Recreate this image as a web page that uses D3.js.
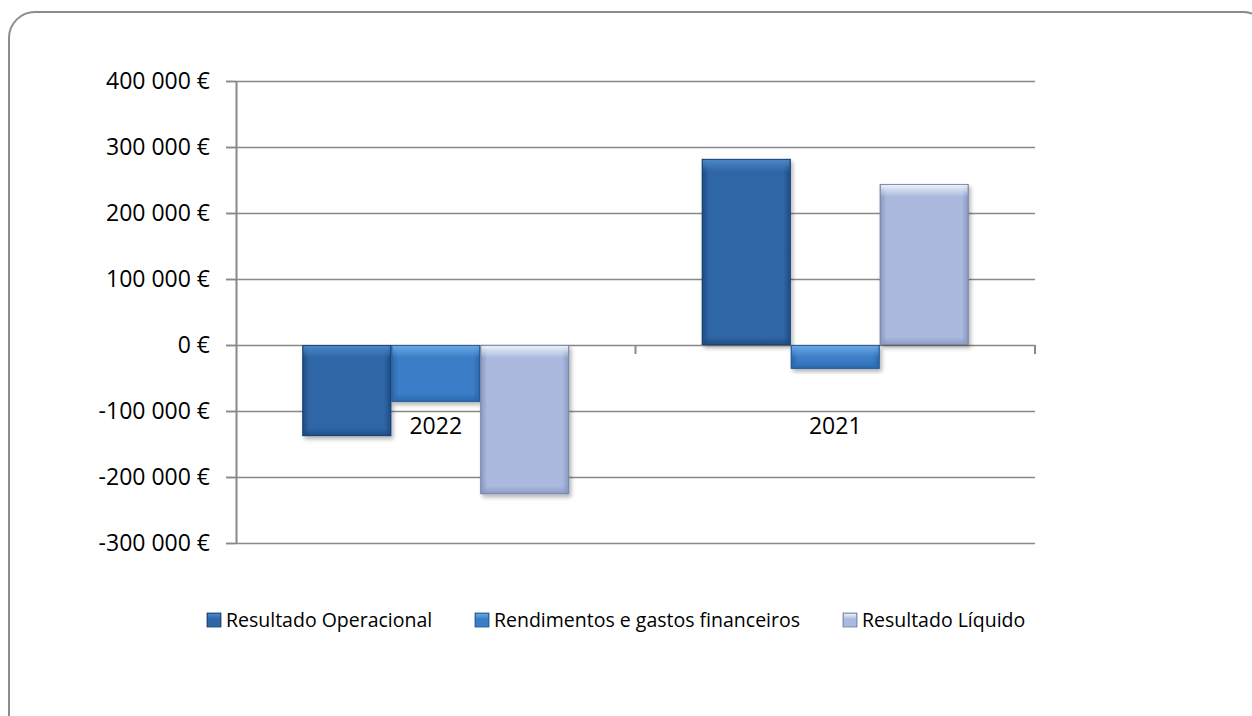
<!DOCTYPE html>
<html>
<head>
<meta charset="utf-8">
<script src="https://cdn.jsdelivr.net/npm/d3@7"></script>
<style>
  html, body { margin: 0; padding: 0; background: #fff; }
  svg { display: block; }
  text { font-family: "Open Sans", "Noto Sans", sans-serif; fill: #000; }
</style>
</head>
<body>
<svg id="chart" width="1252" height="716"></svg>
<script>
// Categories, series and values
const categories = ["2022", "2021"];
const seriesNames = ["Resultado Operacional", "Rendimentos e gastos financeiros", "Resultado Líquido"];
const resultadoOperacional = [-138000, 282000];
const rendimentosGastos = [-86000, -36000];
const resultadoLiquido = [-226000, 244000];
const yTicks = [-300000, -200000, -100000, 0, 100000, 200000, 300000, 400000];

const seriesValues = [resultadoOperacional, rendimentosGastos, resultadoLiquido];

// Bar palette: edge, body, highlight and outline per series
const palette = [
  { edge: "#1d4a80", body: "#2f66a6", light: "#4d88c8", line: "#1a3f6e" },
  { edge: "#2a66aa", body: "#3b7dc6", light: "#6aa8e6", line: "#23578f" },
  { edge: "#8797bf", body: "#aab9dd", light: "#eef2fa", line: "#6f7f9f" }
];

const svg = d3.select("#chart");
const defs = svg.append("defs");

// Soft drop shadow under bars
const shadow = defs.append("filter").attr("id", "shadow")
  .attr("x", "-10%").attr("y", "-10%").attr("width", "130%").attr("height", "130%");
shadow.append("feDropShadow").attr("dx", 2).attr("dy", 3).attr("stdDeviation", 2)
  .attr("flood-color", "#000").attr("flood-opacity", 0.3);

palette.forEach((p, i) => {
  const g = defs.append("linearGradient").attr("id", "body" + i)
    .attr("x1", "0").attr("x2", "1").attr("y1", "0").attr("y2", "0");
  g.append("stop").attr("offset", "0").attr("stop-color", p.edge);
  g.append("stop").attr("offset", "0.08").attr("stop-color", p.body);
  g.append("stop").attr("offset", "0.92").attr("stop-color", p.body);
  g.append("stop").attr("offset", "1").attr("stop-color", p.edge);

  const h = defs.append("linearGradient").attr("id", "top" + i)
    .attr("x1", "0").attr("x2", "0").attr("y1", "0").attr("y2", "1");
  h.append("stop").attr("offset", "0").attr("stop-color", p.light).attr("stop-opacity", 0.95);
  h.append("stop").attr("offset", "1").attr("stop-color", p.light).attr("stop-opacity", 0);

  const b = defs.append("linearGradient").attr("id", "bot" + i)
    .attr("x1", "0").attr("x2", "0").attr("y1", "0").attr("y2", "1");
  b.append("stop").attr("offset", "0").attr("stop-color", p.edge).attr("stop-opacity", 0);
  b.append("stop").attr("offset", "1").attr("stop-color", p.edge).attr("stop-opacity", 0.9);
});

// Rounded frame
svg.append("rect")
  .attr("x", 9).attr("y", 12).attr("width", 1260).attr("height", 730)
  .attr("rx", 26).attr("ry", 26)
  .attr("fill", "#fff").attr("stroke", "#8c8c8c").attr("stroke-width", 2);

// Scales
const plotLeft = 236, plotRight = 1035;
const y = d3.scaleLinear().domain([-300000, 400000]).range([543, 81]);
const x = d3.scaleBand().domain(categories).range([plotLeft, plotRight]).padding(0);
const xSub = d3.scaleBand().domain(seriesNames).range([0, x.bandwidth()])
  .paddingInner(0).paddingOuter(0.745);

const fmt = v => d3.format(",")(v).replace(/,/g, " ").replace("−", "-") + " €";

// Gridlines
svg.append("g").selectAll("line").data(yTicks).join("line")
  .attr("x1", plotLeft - 10).attr("x2", plotRight)
  .attr("y1", d => Math.round(y(d)) + 0.5).attr("y2", d => Math.round(y(d)) + 0.5)
  .attr("stroke", "#888").attr("stroke-width", 1.5);

// Y axis
const yAxis = d3.axisLeft(y).tickValues(yTicks).tickSize(10).tickFormat(fmt);
const yAxisG = svg.append("g").attr("transform", `translate(${plotLeft},0)`).call(yAxis);
yAxisG.select(".domain").attr("stroke", "#888").attr("stroke-width", 2)
  .attr("d", `M0.5,${y(400000)}V${y(-300000)}`);
yAxisG.selectAll(".tick line").attr("stroke", "#888").attr("stroke-width", 1.5);
yAxisG.selectAll(".tick text")
  .attr("x", -26)
  .style("font-size", "23px").style("font-family", "'Open Sans', sans-serif").attr("fill", "#000");

// Category tick marks on the zero line
const catTicks = [plotLeft + x.bandwidth(), plotRight];
svg.append("g").selectAll("line").data(catTicks).join("line")
  .attr("x1", d => d).attr("x2", d => d)
  .attr("y1", y(0)).attr("y2", y(0) + 9)
  .attr("stroke", "#888").attr("stroke-width", 2);

// Bars
const barData = [];
categories.forEach((c, ci) => {
  seriesNames.forEach((s, si) => {
    barData.push({ cat: c, series: s, si, value: seriesValues[si][ci] });
  });
});

const bars = svg.append("g").selectAll("g.bar").data(barData).join("g").attr("class", "bar");
bars.each(function(d) {
  const g = d3.select(this);
  const x0 = x(d.cat) + xSub(d.series);
  const w = xSub.bandwidth();
  const y0 = Math.min(y(0), y(d.value));
  const h = Math.abs(y(d.value) - y(0));
  const p = palette[d.si];
  g.append("rect").attr("x", x0).attr("y", y0).attr("width", w).attr("height", h)
    .attr("fill", `url(#body${d.si})`).attr("filter", "url(#shadow)");
  g.append("rect").attr("x", x0 + 1).attr("y", y0 + 1).attr("width", w - 2).attr("height", Math.min(12, h / 2))
    .attr("fill", `url(#top${d.si})`);
  const bh = Math.min(8, h / 3);
  g.append("rect").attr("x", x0 + 1).attr("y", y0 + h - bh).attr("width", w - 2).attr("height", bh)
    .attr("fill", `url(#bot${d.si})`);
  g.append("rect").attr("x", x0 + 0.5).attr("y", y0 + 0.5).attr("width", w - 1).attr("height", h - 1)
    .attr("fill", "none").attr("stroke", p.line).attr("stroke-width", 1).attr("stroke-opacity", 0.7);
});

// Category labels
svg.append("g").selectAll("text").data(categories).join("text")
  .attr("x", d => x(d) + x.bandwidth() / 2)
  .attr("y", y(0) + 89)
  .attr("text-anchor", "middle")
  .style("font-size", "23px")
  .text(d => d);

// Legend
const legendItems = [
  { name: seriesNames[0], x: 207 },
  { name: seriesNames[1], x: 475 },
  { name: seriesNames[2], x: 843 }
];
const legend = svg.append("g").selectAll("g").data(legendItems).join("g")
  .attr("transform", d => `translate(${d.x},620)`);
legend.append("rect").attr("x", 0).attr("y", -7).attr("width", 14).attr("height", 14)
  .attr("fill", (d, i) => `url(#body${i})`).attr("stroke", (d, i) => palette[i].line).attr("stroke-width", 0.8);
legend.append("rect").attr("x", 1).attr("y", -6).attr("width", 12).attr("height", 5)
  .attr("fill", (d, i) => `url(#top${i})`);
legend.append("text").attr("x", 19).attr("y", 0).attr("dy", "0.35em")
  .style("font-size", "19.5px")
  .text(d => d.name);
</script>
</body>
</html>
